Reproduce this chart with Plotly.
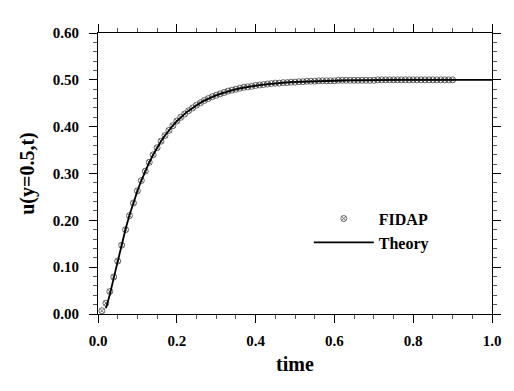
import plotly.graph_objects as go

# FIDAP results, t = 0.01 ... 0.90
fidap_t = [round(0.01 * i, 2) for i in range(1, 91)]
fidap_u = [
    0.007, 0.023, 0.048, 0.079, 0.113, 0.147, 0.180, 0.210, 0.237, 0.263,
    0.285, 0.305, 0.324, 0.340, 0.355, 0.369, 0.381, 0.392, 0.402, 0.412,
    0.420, 0.427, 0.434, 0.440, 0.446, 0.451, 0.456, 0.460, 0.464, 0.467,
    0.470, 0.473, 0.476, 0.478, 0.480, 0.482, 0.484, 0.485, 0.486, 0.488,
    0.489, 0.490, 0.491, 0.492, 0.493, 0.493, 0.494, 0.494, 0.495, 0.495,
    0.496, 0.496, 0.497, 0.497, 0.497, 0.498, 0.498, 0.498, 0.498, 0.498,
    0.499, 0.499, 0.499, 0.499, 0.499, 0.499, 0.499, 0.499, 0.499, 0.499,
    0.500, 0.500, 0.500, 0.500, 0.500, 0.500, 0.500, 0.500, 0.500, 0.500,
    0.500, 0.500, 0.500, 0.500, 0.500, 0.500, 0.500, 0.500, 0.500, 0.500,
]

# Theory curve, t = 0.02 ... 1.00
theory_t = [round(0.01 * i, 2) for i in range(2, 101)]
theory_u = [
    0.0124, 0.0413, 0.0771, 0.1138, 0.1489, 0.1814, 0.2112, 0.2382, 0.2627,
    0.2850, 0.3053, 0.3235, 0.3401, 0.3552, 0.3688, 0.3811, 0.3923, 0.4024, 0.4116,
    0.4199, 0.4274, 0.4342, 0.4404, 0.4460, 0.4511, 0.4557, 0.4598, 0.4636, 0.4670,
    0.4701, 0.4729, 0.4755, 0.4778, 0.4799, 0.4818, 0.4835, 0.4850, 0.4864, 0.4877,
    0.4889, 0.4899, 0.4909, 0.4917, 0.4925, 0.4932, 0.4938, 0.4944, 0.4950, 0.4954,
    0.4959, 0.4962, 0.4966, 0.4969, 0.4972, 0.4975, 0.4977, 0.4979, 0.4981, 0.4983,
    0.4985, 0.4986, 0.4987, 0.4989, 0.4990, 0.4991, 0.4992, 0.4992, 0.4993, 0.4994,
    0.4995, 0.4995, 0.4996, 0.4996, 0.4996, 0.4997, 0.4997, 0.4997, 0.4998, 0.4998,
    0.4998, 0.4998, 0.4998, 0.4998, 0.4999, 0.4999, 0.4999, 0.4999, 0.4999, 0.4999,
    0.4999, 0.4999, 0.4999, 0.4999, 0.5000, 0.5000, 0.5000, 0.5000, 0.5000, 0.5000,
]

x_tick_vals = [0.0, 0.2, 0.4, 0.6, 0.8, 1.0]
x_tick_text = ["0.0", "0.2", "0.4", "0.6", "0.8", "1.0"]
y_tick_vals = [0.0, 0.1, 0.2, 0.3, 0.4, 0.5, 0.6]
y_tick_text = ["0.00", "0.10", "0.20", "0.30", "0.40", "0.50", "0.60"]

FONT = "Liberation Serif"

fig = go.Figure()
fig.add_trace(go.Scatter(
    x=fidap_t, y=fidap_u, mode="markers", name="<b>FIDAP</b>",
    marker=dict(symbol="circle-x-open", size=6, color="#444444",
                line=dict(width=0.8, color="#444444")),
))
fig.add_trace(go.Scatter(
    x=theory_t, y=theory_u, mode="lines", name="<b>Theory</b>",
    line=dict(color="black", width=1.8),
))

axis_common = dict(
    showgrid=False, zeroline=False, showline=True, linecolor="black",
    linewidth=1, mirror="allticks", ticks="outside", ticklen=8,
    tickwidth=1.2, tickcolor="black",
    tickfont=dict(family=FONT, size=15, color="black"),
)

fig.update_xaxes(
    range=[0, 1.0], tickvals=x_tick_vals, ticktext=[f"<b>{t}</b>" for t in x_tick_text],
    minor=dict(dtick=0.05, ticklen=4, tickcolor="#555555", ticks="outside"),
    ticklabelstandoff=5,
    title=dict(text="<b>time</b>", font=dict(family=FONT, size=20, color="black"),
               standoff=8),
    **axis_common,
)
fig.update_yaxes(
    range=[0, 0.6], tickvals=y_tick_vals, ticktext=[f"<b>{t}</b>" for t in y_tick_text],
    minor=dict(dtick=0.02, ticklen=4, tickcolor="#555555", ticks="outside"),
    ticklabelstandoff=7,
    title=dict(text="<b>u(y=0.5,t)</b>", font=dict(family=FONT, size=20, color="black"),
               standoff=12),
    **axis_common,
)

fig.update_layout(
    width=514, height=391,
    margin=dict(l=98, r=22, t=33, b=77),
    plot_bgcolor="white", paper_bgcolor="white",
    legend=dict(x=0.535, y=0.40, xanchor="left", yanchor="top",
                bgcolor="rgba(0,0,0,0)", itemwidth=60, tracegroupgap=0,
                font=dict(family=FONT, size=16, color="black")),
    showlegend=True,
)

fig.write_html("out.html", config={"displayModeBar": False},
               post_script="document.body.style.margin='0';document.body.style.overflow='hidden';")
